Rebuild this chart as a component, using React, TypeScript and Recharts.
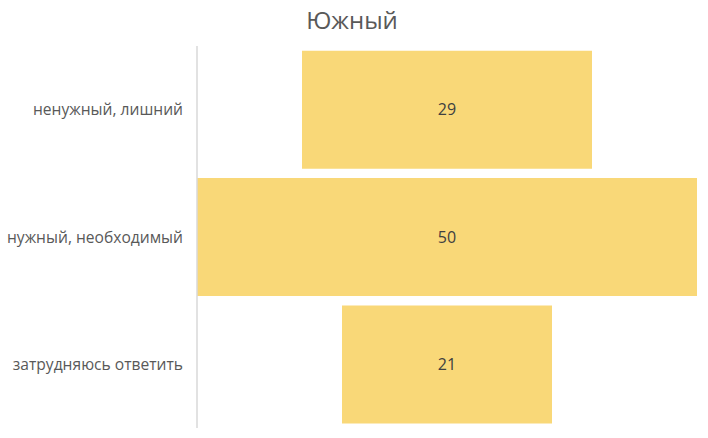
import React from 'react';
import { BarChart, Bar, XAxis, YAxis, LabelList } from 'recharts';

const title = 'Южный';
const categories = ['ненужный, лишний', 'нужный, необходимый', 'затрудняюсь ответить'];
const values = [29, 50, 21];
const axisMax = 50;

const data = categories.map((name, i) => ({
  name,
  value: values[i],
  offset: (axisMax - values[i]) / 2,
}));

const FONT = '"Open Sans", "Noto Sans", sans-serif';

export default function App() {
  return (
    <div style={{ position: 'absolute', left: 0, top: 0, width: 708, height: 438, background: '#fff', fontFamily: FONT }}>
      <div
        style={{
          position: 'absolute',
          left: 0,
          top: 3,
          width: 704,
          textAlign: 'center',
          fontSize: 24,
          color: '#595959',
          fontFamily: FONT,
        }}
      >
        {title}
      </div>
      <BarChart
        width={708}
        height={438}
        data={data}
        layout="vertical"
        margin={{ top: 46, right: 11, left: 0, bottom: 10 }}
        barCategoryGap="3.7%"
      >
        <XAxis type="number" domain={[0, axisMax]} hide />
        <YAxis
          type="category"
          dataKey="name"
          width={197}
          tickSize={0}
          tickMargin={14}
          axisLine={{ stroke: '#d9d9d9', strokeWidth: 1.5 }}
          tickLine={false}
          tick={{ fill: '#595959', fontSize: 15.6, fontFamily: FONT }}
        />
        <Bar dataKey="offset" stackId="a" fill="transparent" isAnimationActive={false} />
        <Bar dataKey="value" stackId="a" fill="#F9D878" isAnimationActive={false}>
          <LabelList dataKey="value" position="center" fill="#404040" fontSize={16} fontFamily={FONT} />
        </Bar>
      </BarChart>
    </div>
  );
}
